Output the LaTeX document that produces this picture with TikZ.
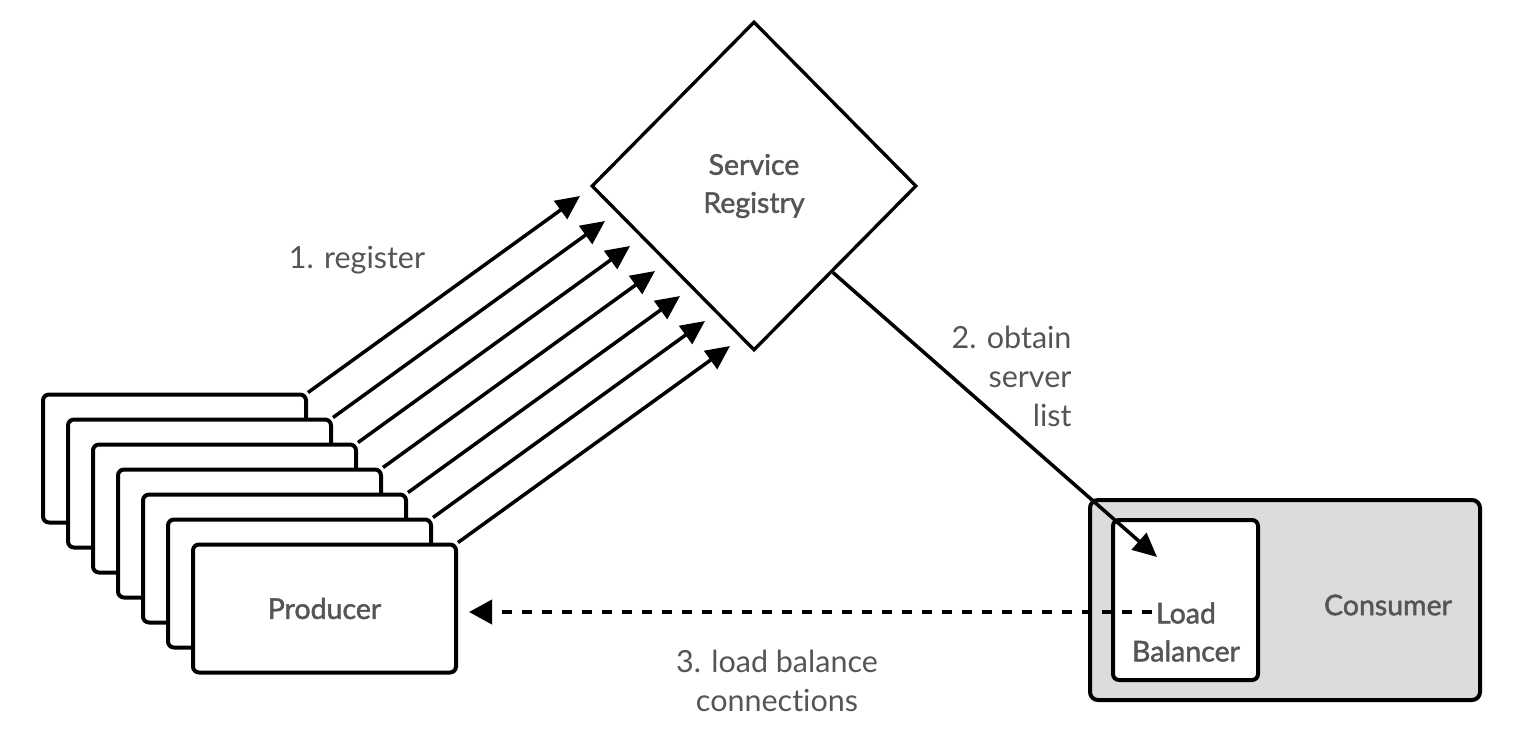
\documentclass[tikz,border=0pt]{standalone}
\usepackage{fontspec}
\setmainfont{Lato}[Ligatures=NoCommon]
\newfontfamily\medfont{Lato}[FakeBold=1.6,Ligatures=NoCommon]
\usetikzlibrary{shapes.geometric,arrows.meta,calc}
\definecolor{txt}{HTML}{555555}
\definecolor{consfill}{HTML}{DCDCDC}
\begin{document}
\begin{tikzpicture}[x=1pt,y=-1pt,
  prodbox/.style={draw, line width=4pt, rounded corners=6pt, fill=white,
    minimum width=263pt, minimum height=128pt, inner sep=0pt},
  lbl/.style={text=txt, font=\fontsize{30.5}{39}\selectfont},
  nodetxt/.style={text=txt, font=\medfont\fontsize{28.5}{38}\selectfont},
  arr/.style={line width=3.5pt, -{Triangle[length=24pt,width=22pt]}},
]
\useasboundingbox (0,0) rectangle (1526,750);
% producers
\foreach \i in {1,...,6} {
  \node[prodbox] (p\i) at ({174.5+25*(\i-1)}, {458.5+25*(\i-1)}) {};
}
\node[prodbox, nodetxt] (p7) at (324.5,608.5) {Producer};
% register arrows
\foreach \i in {1,...,7} {
  \coordinate (t\i) at ({580+25*(\i-1)}, {196+25*(\i-1)});
  \draw[arr] (p\i.north east) -- (t\i);
}
% registry
\node[diamond, draw, line width=3.3pt, minimum width=325pt, minimum height=329pt,
  inner sep=0pt, nodetxt, align=center] (reg) at (754,186) {Service\\Registry};
% consumer
\node[draw, line width=4pt, rounded corners=8pt, fill=consfill,
  minimum width=390pt, minimum height=200pt] (cons) at (1285,600) {};
\node[nodetxt] (constxt) at (1388,605) {Consumer};
\node[draw, line width=4pt, rounded corners=6pt, fill=white,
  minimum width=145pt, minimum height=160pt] (lb) at (1185.5,600) {};
\node[nodetxt, align=center] (lbtxt) at (1186,632) {Load\\Balancer};
% obtain arrow
\coordinate (regout) at ($(reg.east)!0.52!(reg.south)$);
\coordinate (lbin) at (1157,557);
\draw[arr] (regout) -- (lbin);
% dashed arrow
\coordinate (dstart) at (1152,612);
\draw[line width=4pt, dash pattern=on 10pt off 10pt, shorten >=11pt,
  -{Triangle[length=23pt,width=24pt]}] (dstart) -- (dstart -| p7.east);
% labels
\node[lbl] (l1) at (357,260) {1. register};
\node[lbl, align=right, anchor=east] (l2) at (1075,376) {2. obtain\\server\\list};
\node[lbl, align=center] (l3) at (777,681) {3. load balance\\connections};
\end{tikzpicture}
\end{document}
